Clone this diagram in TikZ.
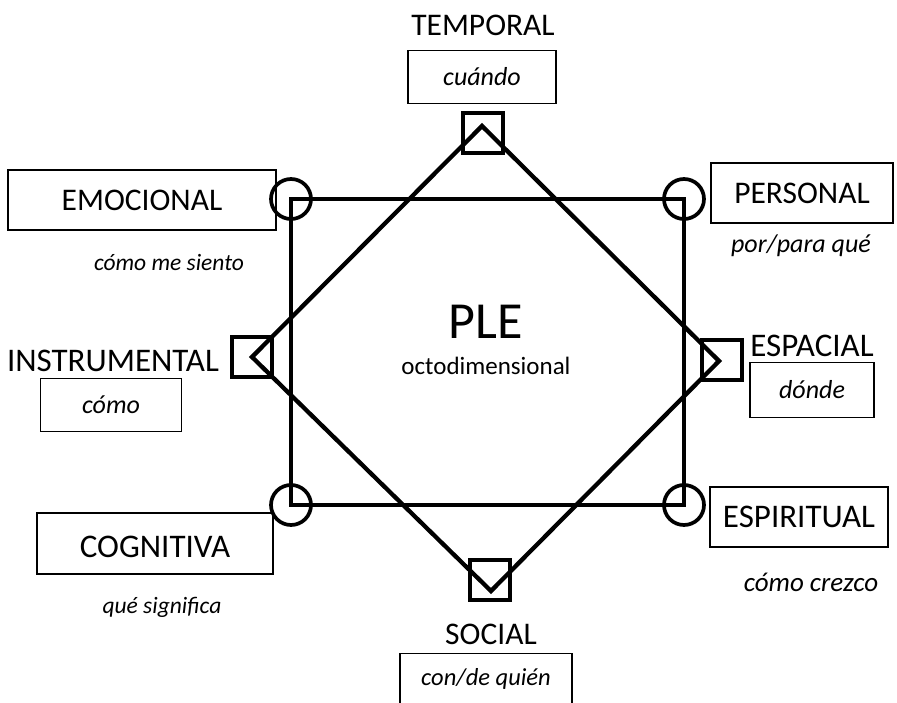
\documentclass[tikz,border=0pt]{standalone}
\usepackage{fontspec}
\setmainfont{Carlito}
\begin{document}
\begin{tikzpicture}[x=1pt,y=-1pt,
  capfont/.style={font=\fontsize{31.5}{36}\selectfont},
  capfontb/.style={font=\fontsize{33}{38}\selectfont},
  itfont/.style={font=\fontsize{26}{31}\selectfont\itshape},
  itfontl/.style={font=\fontsize{23.5}{28}\selectfont\itshape},
  lblbox/.style={draw, line width=1.3pt, inner sep=0pt},
  marksq/.style={draw, line width=4pt, rectangle, minimum size=40pt, inner sep=0pt},
  markci/.style={draw, line width=3.7pt, circle, minimum size=40pt, inner sep=0pt},
  heavy/.style={line width=4.3pt}]
\path[use as bounding box] (0,0) rectangle (897,703);
\clip (0,0) rectangle (897,703);
% rectangle corners
\coordinate (tl) at (291,199);
\coordinate (tr) at (684,199);
\coordinate (br) at (684,505);
\coordinate (bl) at (291,505);
% diamond vertices
\coordinate (dt) at (482,126);
\coordinate (dr) at (719,361);
\coordinate (db) at (491,591);
\coordinate (dl) at (252,357);
% marks
\node[marksq] (sqt) at (483,133) {};
\node[marksq] (sqr) at (722,360) {};
\node[marksq] (sqb) at (490,580) {};
\node[marksq] (sql) at (252,357) {};
\node[markci] (ctl) at (tl) {};
\node[markci] (ctr) at (tr) {};
\node[markci] (cbr) at (br) {};
\node[markci] (cbl) at (bl) {};
% main shapes
\draw[heavy] (tl) -- (tr) -- (br) -- (bl) -- cycle;
\draw[heavy, line join=miter] (dt) -- (dr) -- (db) -- (dl) -- cycle;
% centre text
\node[font=\fontsize{52}{58}\selectfont] (ple) at (486,322) {PLE};
\node[font=\fontsize{25}{30}\selectfont] (octo) at (486,366) {octodimensional};
% TEMPORAL
\node[capfont] (temporal) at (483,25) {TEMPORAL};
\node[lblbox, itfont, minimum width=148pt, minimum height=53pt] (cuando) at (482,77) {cuándo};
% EMOCIONAL
\node[lblbox, capfont, minimum width=268pt, minimum height=60pt] (emocional) at (142,200) {EMOCIONAL};
\node[itfontl] (siento) at (169,263) {cómo me siento};
% PERSONAL
\node[lblbox, capfont, minimum width=182pt, minimum height=60pt] (personal) at (802,193) {PERSONAL};
\node[itfont] (porpara) at (801,246) {por/para qué};
% INSTRUMENTAL
\node[capfontb] (instrumental) at (113,361) {INSTRUMENTAL};
\node[lblbox, itfont, minimum width=141pt, minimum height=53pt] (como) at (111,405) {cómo};
% ESPACIAL
\node[capfontb] (espacial) at (812,346) {ESPACIAL};
\node[lblbox, itfont, minimum width=124pt, minimum height=55pt] (donde) at (812,390) {dónde};
% COGNITIVA
\node[lblbox, capfontb, minimum width=236pt, minimum height=61pt] (cognitiva) at (155,543.5) {};
\node[capfontb] (cogtxt) at (155,547) {COGNITIVA};
\node[itfontl] (significa) at (162,607) {qué significa};
% ESPIRITUAL
\node[lblbox, capfontb, minimum width=178pt, minimum height=60pt] (espiritual) at (799,517) {ESPIRITUAL};
\node[font=\fontsize{27}{32}\selectfont\itshape] (crezco) at (811,582) {cómo crezco};
% SOCIAL
\node[capfont] (social) at (491,634) {SOCIAL};
\node[lblbox, minimum width=172pt, minimum height=70pt, anchor=north] (quien) at (486,653) {};
\node[font=\fontsize{24.5}{29}\selectfont\itshape] (quientxt) at (486,679) {con/de quién};
\end{tikzpicture}
\end{document}
